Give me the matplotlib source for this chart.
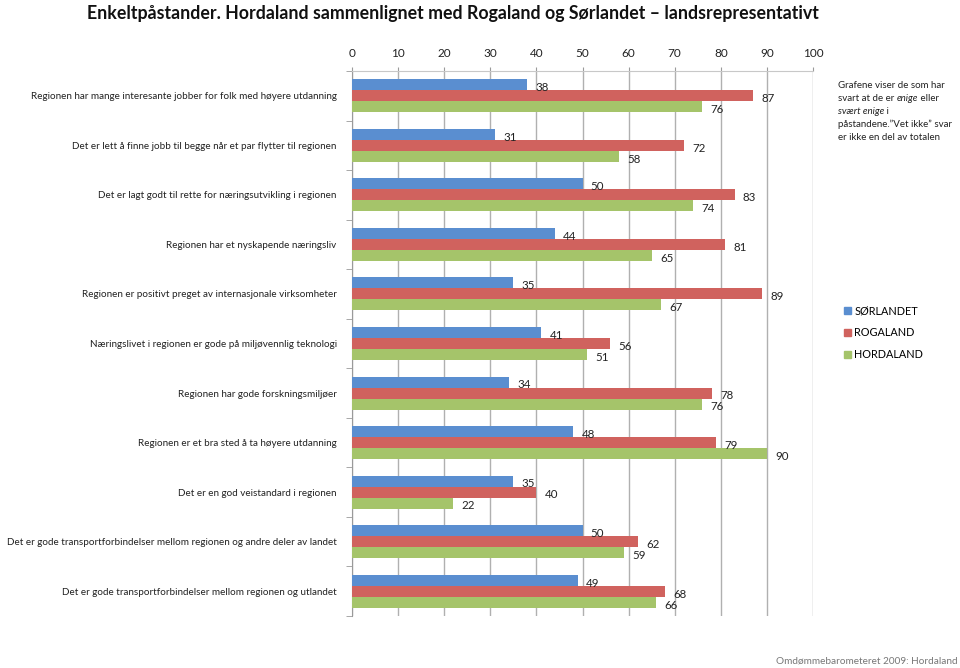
import matplotlib
matplotlib.use("Agg")
import matplotlib.pyplot as plt
from matplotlib.patches import Patch
import numpy as np

categories = [
    "Regionen har mange interesante jobber for folk med høyere utdanning",
    "Det er lett å finne jobb til begge når et par flytter til regionen",
    "Det er lagt godt til rette for næringsutvikling i regionen",
    "Regionen har et nyskapende næringsliv",
    "Regionen er positivt preget av internasjonale virksomheter",
    "Næringslivet i regionen er gode på miljøvennlig teknologi",
    "Regionen har gode forskningsmiljøer",
    "Regionen er et bra sted å ta høyere utdanning",
    "Det er en god veistandard i regionen",
    "Det er gode transportforbindelser mellom regionen og andre deler av landet",
    "Det er gode transportforbindelser mellom regionen og utlandet",
]
sorlandet = [38, 31, 50, 44, 35, 41, 34, 48, 35, 50, 49]
rogaland = [87, 72, 83, 81, 89, 56, 78, 79, 40, 62, 68]
hordaland = [76, 58, 74, 65, 67, 51, 76, 90, 22, 59, 66]
series_names = ["SØRLANDET", "ROGALAND", "HORDALAND"]
colors = ["#5A8ED0", "#D0625E", "#A5C46A"]
xticks = list(range(0, 101, 10))

plt.rcParams['font.family'] = ['Lato', 'DejaVu Sans']

fig = plt.figure(figsize=(9.6, 6.68), dpi=100)
W, H = 960, 668
ax = fig.add_axes([352 / W, 1 - 616 / H, (813 - 352) / W, (616 - 71) / H])

n = len(categories)
y = np.arange(n)
bh = 0.222
offs = [-bh, 0, bh]
for vals, off, col in zip([sorlandet, rogaland, hordaland], offs, colors):
    bars = ax.barh(y + off, vals, height=bh, color=col, zorder=3)
    for b, v in zip(bars, vals):
        ax.annotate(str(v), (v, b.get_y() + b.get_height() / 2), xytext=(6, -2),
                    textcoords="offset points", va="center", ha="left",
                    fontsize=8.3, color="#222222", zorder=4)

ax.set_xlim(0, 100)
ax.set_ylim(n - 0.5, -0.5)
ax.xaxis.tick_top()
ax.set_xticks(xticks)
ax.set_xticklabels([str(t) for t in xticks], fontsize=8.5, color="#222222")
ax.tick_params(axis="x", length=3, color="#9a9a9a", pad=6)
ax.grid(axis="x", color="#b0b0b0", linewidth=1.0, zorder=0)

ax.set_yticks(y)
ax.set_yticklabels(categories, fontsize=7.15, color="#222222")
ax.tick_params(axis="y", which="major", length=0, pad=11)
ax.set_yticks(np.arange(-0.5, n, 1), minor=True)
ax.tick_params(axis="y", which="minor", length=4, color="#9a9a9a")

for s in ["right", "bottom"]:
    ax.spines[s].set_visible(False)
ax.spines["left"].set_color("#9a9a9a")
ax.spines["top"].set_color("#c8c8c8")

fig.text(87 / W, 1 - 13 / H, "Enkeltpåstander. Hordaland sammenlignet med Rogaland og Sørlandet – landsrepresentativt",
         fontsize=12.8, fontweight="bold", ha="left", va="center", color="#111111")

# note text with italics
note = [
    [("Grafene viser de som har", "normal")],
    [("svart at de er ", "normal"), ("enige", "italic"), (" eller", "normal")],
    [("svært enige", "italic"), (" i", "normal")],
    [("påstandene.”Vet ikke” svar", "normal")],
    [("er ikke en del av totalen", "normal")],
]
fig.canvas.draw()
renderer = fig.canvas.get_renderer()
x0 = 838
for i, line in enumerate(note):
    xp = x0
    yp = 86 + i * 12.9
    for txt, style in line:
        t = fig.text(xp / W, 1 - yp / H, txt, fontsize=7.0, style=style, ha="left", va="center",
                     color="#222222")
        bb = t.get_window_extent(renderer=renderer)
        xp += bb.width

handles = [Patch(facecolor=c, edgecolor=c) for c in colors]
fig.legend(handles, series_names, loc="upper left", bbox_to_anchor=(840 / W, 1 - 301 / H),
           frameon=False, fontsize=7.8, handlelength=0.6, handleheight=0.6, handletextpad=0.3,
           labelspacing=1.0, borderaxespad=0)

fig.text(958 / W, 1 - 661 / H, "Omdømmebarometeret 2009: Hordaland", fontsize=7.2,
         color="#777777", ha="right", va="center")

fig.savefig("out.png", dpi=100)
